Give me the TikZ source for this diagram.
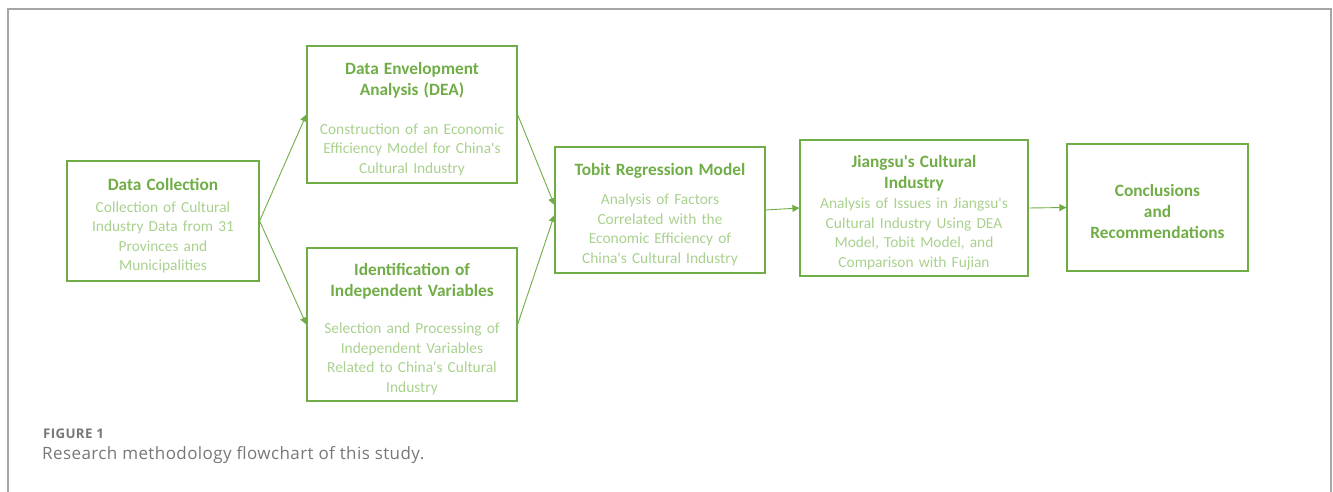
\documentclass[tikz,border=0pt]{standalone}
\usepackage{fontspec}
\setmainfont{Carlito}
\newfontfamily\capfont{Open Sans}[LetterSpace=2.5]
\usepackage{tikz}
\usetikzlibrary{shapes,arrows.meta}
\definecolor{boxgreen}{HTML}{70AD47}
\definecolor{lightgreen}{HTML}{A9D18E}
\definecolor{framegray}{HTML}{A6A6A6}
\definecolor{capgray}{HTML}{777777}
\newcommand{\apos}{\textquotesingle}
% heading of a box, optional argument = space before the description
\newcommand{\heading}[2][2pt]{{\fontsize{17.3}{21}\selectfont\bfseries\color{boxgreen}\rule{0pt}{21pt}#2\par}\vspace{#1}}
\tikzstyle{block} = [rectangle, draw=boxgreen, line width=1.2pt, text=lightgreen,
    align=center, inner xsep=4pt, font=\fontsize{15.4}{19.5}\selectfont]
\tikzstyle{line} = [draw=boxgreen, line width=0.9pt, -{Triangle[length=7pt,width=7pt]}]

\begin{document}
\begin{tikzpicture}[x=1pt, y=-1pt]
  \useasboundingbox (0,0) rectangle (1333,492);
  % Frame around the figure
  \draw [framegray, line width=1.5pt] (8,500) -- (8,9) -- (1331,9) -- (1331,500);
   % Place nodes
    \node [block, text width=180pt, minimum width=192pt, minimum height=120pt] (data) at (163,221)
      {\heading[2.5pt]{Data Collection}Collection of Cultural\\ Industry Data from 31\\ Provinces and\\ Municipalities};
    \node [block, text width=198pt, minimum width=210pt, minimum height=137pt] (dea) at (412,114.5)
      {\heading[19pt]{Data Envelopment\\ Analysis (DEA)}Construction of an Economic\\ Efficiency Model for China\apos s\\ Cultural Industry};
    \node [block, text width=198pt, minimum width=210pt, minimum height=153pt] (vars) at (412,324.5)
      {\heading[17.5pt]{Identification of\\ Independent Variables}Selection and Processing of\\ Independent Variables\\ Related to China\apos s Cultural\\ Industry};
    \node [block, text width=198pt, minimum width=210pt, minimum height=126pt] (tobit) at (660,210)
      {\heading[10pt]{Tobit Regression Model}Analysis of Factors\\ Correlated with the\\ Economic Efficiency of\\ China\apos s Cultural Industry};
    \node [block, text width=216pt, minimum width=228pt, minimum height=136pt] (jiangsu) at (914,208)
      {\heading[1pt]{Jiangsu\apos s Cultural\\ Industry}Analysis of Issues in Jiangsu\apos s\\ Cultural Industry Using DEA\\ Model, Tobit Model, and\\ Comparison with Fujian};
    \node [block, text width=169pt, minimum width=181pt, minimum height=127pt] (concl) at (1157.5,207.5)
      {\heading[0pt]{Conclusions\\ and\\ Recommendations}};
   % Draw edges
    \path [line] (data.east) -- (dea.west);
    \path [line] (data.east) -- (vars.west);
    \path [line] (dea.east) -- ([yshift=5pt]tobit.west);
    \path [line] (vars.east) -- ([yshift=-5pt]tobit.west);
    \path [line] (tobit.east) -- (jiangsu.west);
    \path [line] (jiangsu.east) -- (concl.west);
   % Caption
    \node [anchor=west, inner sep=0pt, text=capgray, font=\capfont\bfseries\fontsize{13.3}{15}\selectfont] (fig) at (43,434) {FIGURE 1};
    \node [anchor=west, inner sep=0pt, text=capgray, font=\capfont\fontsize{17}{20}\selectfont] (cap) at (42,455) {Research methodology flowchart of this study.};
  \end{tikzpicture}
\end{document}
